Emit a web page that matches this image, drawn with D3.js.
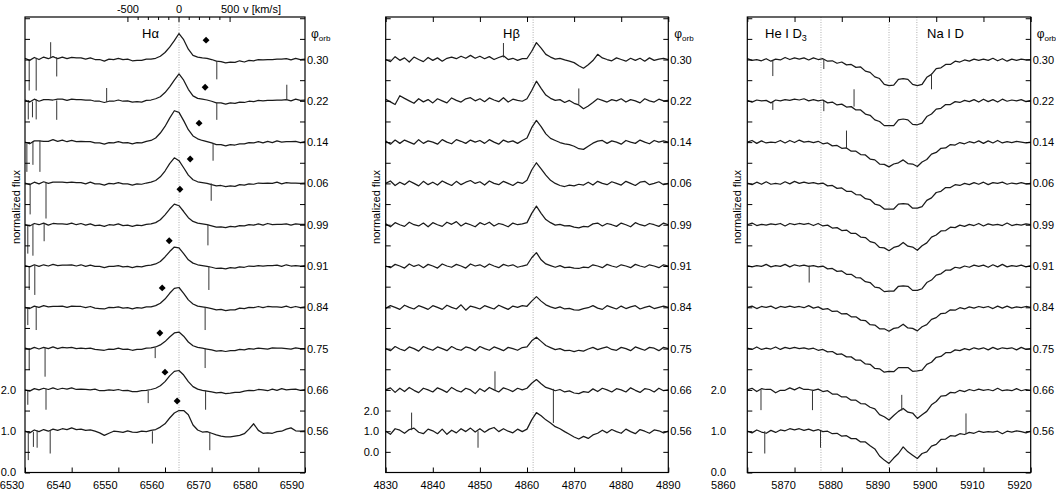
<!DOCTYPE html>
<html><head><meta charset="utf-8">
<script src="https://cdn.jsdelivr.net/npm/d3@7"></script>
<style>
body{margin:0;background:#fff}
text{font-family:"Liberation Sans",Arial,Helvetica,sans-serif;fill:#000}
</style>
</head><body>
<svg id="c" width="1056" height="489"></svg>
<script>
// ---------------- DATA ----------------
const phases = ["0.56","0.66","0.75","0.84","0.91","0.99","0.06","0.14","0.22","0.30"];

const haWave = [6530,6531,6532,6533,6534,6535,6536,6537,6538,6539,6540,6541,6542,6543,6544,6545,6546,6547,6548,6549,6550,6551,6552,6553,6554,6555,6556,6557,6558,6559,6560,6561,6562,6563,6564,6565,6566,6567,6568,6569,6570,6571,6572,6573,6574,6575,6576,6577,6578,6579,6580,6581,6582,6583,6584,6585,6586,6587,6588,6589,6590];
const hbWave = [4830,4831,4832,4833,4834,4835,4836,4837,4838,4839,4840,4841,4842,4843,4844,4845,4846,4847,4848,4849,4850,4851,4852,4853,4854,4855,4856,4857,4858,4859,4860,4861,4862,4863,4864,4865,4866,4867,4868,4869,4870,4871,4872,4873,4874,4875,4876,4877,4878,4879,4880,4881,4882,4883,4884,4885,4886,4887,4888,4889,4890];
const naWave = [5860,5861,5862,5863,5864,5865,5866,5867,5868,5869,5870,5871,5872,5873,5874,5875,5876,5877,5878,5879,5880,5881,5882,5883,5884,5885,5886,5887,5888,5889,5890,5891,5892,5893,5894,5895,5896,5897,5898,5899,5900,5901,5902,5903,5904,5905,5906,5907,5908,5909,5910,5911,5912,5913,5914,5915,5916,5917,5918,5919,5920];

// H-alpha normalized flux, one array per orbital phase
const ha056 = [1.00,0.96,1.03,0.99,1.04,1.00,1.05,1.02,1.06,1.04, 1.08,1.04,1.05,1.02,1.03,1.00,0.96,0.90,0.95,1.00, 0.99,0.97,1.01,0.98,0.97,1.00,0.99,1.02,1.04,1.10, 1.18,1.32,1.44,1.50,1.50,1.40,1.15,1.03,0.98,0.99, 0.95,0.91,0.88,0.86,0.86,0.88,0.90,0.94,1.05,1.18, 1.02,0.95,0.96,0.95,0.99,1.00,1.05,1.08,1.01,1.00, 1.01];
const ha066 = [1.00,0.97,1.03,1.00,1.04,1.01,1.05,1.01,1.04,1.02, 1.05,1.01,1.02,1.01,1.00,1.02,0.98,0.98,1.00,0.99, 1.01,0.98,0.99,0.96,0.96,0.98,0.99,1.01,1.04,1.10, 1.20,1.34,1.45,1.47,1.36,1.20,1.08,1.02,0.99,0.97, 0.95,0.93,0.94,0.91,0.92,0.94,0.94,0.97,0.99,0.98, 1.01,1.00,0.98,1.02,0.99,1.03,1.00,1.01,1.02,0.99, 1.01];
const ha075 = [1.01,0.98,1.03,0.99,1.03,1.00,1.04,1.00,1.03,1.02, 1.03,1.00,1.01,1.00,1.01,0.98,0.97,0.96,0.99,0.98, 1.01,0.98,0.99,0.96,0.98,0.98,1.01,1.02,1.04,1.09, 1.17,1.28,1.38,1.40,1.30,1.16,1.07,1.03,1.01,0.99, 0.97,0.94,0.95,0.93,0.95,0.95,0.98,0.97,1.00,0.99, 1.01,1.00,0.99,1.02,1.01,1.01,1.00,0.99,1.02,1.00, 1.00];
const ha084 = [1.00,0.97,1.03,1.00,1.04,1.01,1.02,1.02,1.03,1.00, 1.03,1.02,1.02,0.99,1.02,0.98,0.97,0.96,1.00,0.99, 1.01,0.98,0.99,0.96,0.99,0.98,1.01,1.01,1.04,1.10, 1.20,1.34,1.46,1.48,1.34,1.18,1.08,1.03,1.01,0.99, 0.97,0.94,0.95,0.92,0.94,0.94,0.98,0.97,1.00,0.99, 1.02,0.99,1.02,1.01,1.01,1.00,1.03,0.99,1.02,0.99, 1.01];
const ha091 = [1.01,0.98,1.03,0.99,1.03,1.00,1.04,1.01,1.02,1.02, 1.03,1.00,1.03,0.99,1.02,0.99,0.99,0.96,0.99,0.99, 1.01,0.98,0.99,0.96,0.99,0.98,1.01,1.02,1.05,1.11, 1.22,1.35,1.46,1.44,1.30,1.15,1.07,1.03,1.01,0.99, 0.97,0.94,0.95,0.93,0.96,0.95,0.98,0.97,1.00,0.99, 1.01,1.00,1.01,1.01,1.02,0.99,1.03,1.00,1.01,1.00, 1.01];
const ha099 = [1.00,0.97,1.03,1.00,1.04,0.99,1.03,1.02,1.02,1.01, 1.04,1.00,1.03,0.99,1.02,0.98,0.99,0.96,1.00,0.99, 1.02,0.98,0.99,0.96,0.99,0.98,1.01,1.02,1.05,1.12, 1.24,1.38,1.50,1.46,1.32,1.17,1.08,1.04,1.02,1.00, 0.97,0.94,0.95,0.93,0.96,0.95,0.98,0.97,1.00,0.99, 1.02,0.99,1.03,1.00,1.01,1.01,1.02,0.99,1.02,1.01, 1.01];
const ha006 = [1.01,0.97,1.03,0.99,1.04,1.00,1.03,1.03,1.03,1.02, 1.03,1.02,1.02,0.99,1.03,0.99,0.99,0.96,1.00,0.99, 1.02,0.99,0.99,0.96,0.99,0.98,1.01,1.03,1.07,1.16, 1.30,1.48,1.62,1.55,1.38,1.20,1.09,1.04,1.02,1.00, 0.97,0.94,0.95,0.92,0.94,0.93,0.97,0.96,0.99,0.98, 1.01,1.00,1.01,1.00,1.03,0.99,1.02,1.01,1.01,1.00, 1.01];
const ha014 = [1.00,0.96,1.03,1.03,1.02,1.02,1.06,1.02,1.05,1.01, 1.04,1.01,1.02,1.01,1.01,0.98,0.98,0.95,0.99,0.98, 1.01,0.98,0.99,0.96,0.99,0.98,1.02,1.04,1.10,1.22, 1.38,1.58,1.76,1.72,1.52,1.30,1.15,1.08,1.04,1.01, 0.98,0.94,0.94,0.91,0.94,0.93,0.96,0.96,0.99,0.98, 1.01,0.98,1.02,0.99,1.03,1.00,1.01,1.01,1.02,0.99, 1.01];
const ha022 = [1.02,0.97,1.04,0.99,1.03,1.03,1.02,1.04,1.04,1.01, 1.04,1.03,1.03,1.02,1.02,0.99,0.99,0.96,0.99,0.99, 1.02,0.99,1.00,0.97,0.98,0.97,1.01,1.02,1.05,1.10, 1.20,1.34,1.50,1.65,1.50,1.28,1.12,1.06,1.04,1.02, 0.99,0.95,0.95,0.92,0.95,0.94,0.97,0.96,0.99,0.98, 1.01,1.00,1.01,1.01,1.02,1.02,1.03,1.00,1.04,1.01, 1.02];
const ha030 = [1.03,0.98,1.05,1.00,1.06,1.02,1.07,1.02,1.06,1.02, 1.05,1.04,1.04,1.01,1.04,1.00,1.00,0.96,1.01,1.00, 1.03,1.00,1.01,0.97,0.98,0.98,1.01,1.01,1.03,1.08, 1.17,1.30,1.46,1.63,1.48,1.25,1.10,1.06,1.04,1.03, 1.00,0.96,0.95,0.92,0.94,0.93,0.97,0.94,0.98,0.97, 1.00,0.99,1.00,1.00,1.01,1.01,1.02,0.99,1.03,1.00, 1.01];

// H-alpha narrow telluric features: [phase index, wavelength, flux from, flux to]
const haSpikes = [
 [0,6530.7,1.00,0.30],[0,6531.8,0.98,0.62],[0,6532.6,1.02,0.60],[0,6535.4,1.01,0.46],[0,6557.3,1.00,0.70],[0,6569.6,0.98,0.54],
 [1,6530.6,1.00,0.64],[1,6534.5,1.03,0.52],[1,6556.4,0.98,0.68],[1,6568.7,0.99,0.52],
 [2,6530.9,1.01,0.48],[2,6534.3,1.02,0.32],[2,6557.9,1.02,0.77],[2,6568.6,1.01,0.53],
 [3,6530.6,1.00,0.57],[3,6532.4,1.02,0.45],[3,6568.6,1.01,0.45],
 [4,6530.9,0.99,0.42],[4,6532.1,1.02,0.30],[4,6569.4,0.99,0.42],
 [5,6530.6,0.98,0.30],[5,6531.7,1.02,0.25],[5,6534.1,1.03,0.60],[5,6569.2,1.00,0.50],
 [6,6531.1,0.98,0.25],[6,6534.5,1.03,0.15],[6,6569.9,1.00,0.58],
 [7,6530.4,0.97,0.28],[7,6531.7,1.02,0.45],[7,6533.2,1.04,0.28],[7,6570.3,0.98,0.55],
 [8,6530.7,1.02,0.55],[8,6531.6,0.98,0.60],[8,6532.4,1.03,0.55],[8,6536.8,1.01,0.54],[8,6571.1,0.96,0.54],[8,6547.5,0.97,1.31],[8,6586.1,1.02,1.39],
 [9,6530.9,0.99,0.25],[9,6532.4,1.04,0.25],[9,6536.8,1.06,0.59],[9,6571.1,0.97,0.52],[9,6535.5,1.03,1.42]
];
// diamond markers in the H-alpha panel
const haMarkWave = [6562.6,6560.0,6558.9,6559.4,6560.9,6563.2,6565.4,6567.3,6568.6,6568.8];
const haMarkFlux = [1.73,1.43,1.38,1.47,1.61,1.86,1.59,1.46,1.33,1.47];

// H-beta normalized flux
const hb056 = [1.00,0.85,1.12,1.05,0.90,1.08,1.15,0.95,0.88,1.10, 1.02,0.88,1.10,0.85,1.05,0.92,1.12,0.98,1.15,0.96, 1.12,0.95,1.10,1.18,0.98,1.12,1.00,0.92,1.10,0.98, 1.10,1.55,1.90,1.75,1.55,1.40,1.22,1.12,0.98,0.85, 0.72,0.62,0.75,0.65,0.82,0.90,1.05,0.92,1.08,0.98, 0.90,1.10,0.98,0.88,1.08,1.00,0.90,1.06,1.02,0.92, 1.00];
const hb066 = [1.00,1.10,0.88,1.08,0.92,1.12,0.98,0.87,1.08,1.00, 0.90,1.10,1.00,0.88,1.12,0.98,0.90,1.08,1.00,0.82, 1.06,0.92,1.12,1.00,0.90,1.10,1.02,0.92,1.08,1.00, 1.08,1.32,1.50,1.30,1.12,1.05,0.96,1.02,0.90,0.95, 0.85,0.82,0.92,0.88,1.05,0.92,1.08,1.00,0.90,1.06, 1.00,0.90,1.10,0.98,0.88,1.06,1.02,0.90,1.08,0.96, 1.00];
const hb075 = [1.00,0.90,1.10,0.98,0.90,1.08,1.00,0.88,1.10,1.00, 0.92,1.08,1.00,0.90,1.10,0.98,0.92,1.08,1.02,0.90, 1.10,1.00,0.92,1.08,1.00,0.90,1.06,1.00,0.92,1.05, 1.08,1.38,1.55,1.35,1.15,1.05,0.95,1.00,0.90,0.92, 0.85,0.92,0.88,0.98,1.06,0.95,1.02,1.08,0.96,0.92, 1.06,1.00,0.90,1.08,1.00,0.92,1.06,1.02,0.90,1.06, 1.00];
const hb084 = [0.95,1.08,1.00,0.90,1.10,1.00,0.92,1.08,1.00,0.90, 1.08,1.00,0.90,1.10,1.00,0.92,1.12,0.86,1.06,1.00, 0.92,1.08,1.00,0.92,1.10,1.00,0.90,1.06,1.00,1.08, 1.05,1.30,1.52,1.30,1.12,1.02,0.95,1.02,0.92,0.95, 0.88,0.86,0.94,0.98,1.08,0.96,0.90,1.08,1.00,0.92, 1.06,0.94,1.02,1.08,0.92,1.00,1.06,0.94,1.00,1.06, 1.00];
const hb091 = [1.00,0.92,1.08,1.00,0.90,1.10,0.98,1.06,0.92,1.08, 1.00,0.90,1.10,1.00,0.94,1.08,1.00,0.90,1.10,1.00, 1.06,0.94,1.10,1.00,0.92,1.08,1.00,1.06,0.94,1.00, 1.05,1.40,1.65,1.30,1.10,1.02,0.94,1.02,0.92,0.95, 0.90,0.88,0.95,0.92,1.06,1.00,0.92,1.08,1.00,0.94, 1.06,1.00,0.92,1.08,1.00,0.94,1.06,1.00,0.92,1.06, 1.00];
const hb099 = [1.04,0.90,1.10,1.00,0.92,1.12,1.00,0.94,1.08,0.90, 1.10,1.00,0.92,1.12,1.02,1.15,0.94,1.08,1.00,0.90, 1.10,1.00,1.12,0.94,1.06,1.00,0.90,1.08,1.00,1.04, 1.10,1.55,1.90,1.55,1.25,1.10,0.98,1.02,0.94,0.96, 0.88,0.85,0.92,0.90,1.04,1.08,0.94,1.06,1.00,0.92, 1.08,1.00,0.90,1.10,1.00,0.94,1.06,1.00,0.92,1.08, 1.00];
const hb006 = [1.00,1.12,0.90,1.06,0.94,1.12,1.00,0.88,1.10,0.94, 1.06,0.92,1.12,1.00,0.90,1.10,0.94,1.06,1.14,1.00, 1.08,0.92,1.12,1.00,0.94,1.10,1.00,0.90,1.06,1.00, 1.15,1.65,2.00,1.70,1.40,1.15,1.00,0.90,0.85,0.92, 0.88,0.96,0.92,1.06,0.92,1.10,1.00,0.94,1.08,1.00, 0.92,1.10,1.00,0.90,1.06,1.10,0.94,1.00,1.08,0.94, 1.00];
const hb014 = [1.06,0.90,1.10,0.94,1.10,1.00,0.90,1.12,0.94,1.06, 1.00,0.90,1.12,1.00,0.92,1.12,1.04,0.94,1.10,1.00, 1.08,0.94,1.12,1.00,0.90,1.10,1.00,1.06,0.94,1.08, 1.20,1.70,2.05,1.75,1.40,1.18,1.08,0.98,0.92,0.88, 0.80,0.68,0.65,0.80,0.95,1.05,1.08,0.94,1.06,1.00, 0.90,1.08,1.00,0.94,1.10,1.00,0.92,1.08,1.00,1.06, 1.00];
const hb022 = [1.08,0.95,0.82,1.25,1.12,1.00,0.88,1.10,0.95,1.06, 0.90,1.10,1.00,0.90,1.14,1.02,0.94,1.10,1.15,1.00, 1.10,0.96,1.14,1.04,0.96,1.15,0.94,1.08,1.02,0.98, 1.10,1.50,1.95,1.60,1.28,1.12,1.02,1.06,0.92,1.02, 0.88,0.80,0.62,0.75,0.92,1.10,1.02,0.94,1.06,1.00, 1.10,0.94,1.06,1.00,0.90,1.10,1.00,0.94,1.08,1.00, 1.02];
const hb030 = [1.00,0.90,1.14,0.96,1.08,0.88,1.12,1.00,0.90,1.10, 0.96,1.08,0.92,1.06,1.12,1.04,1.16,1.06,1.20,1.06, 1.16,1.04,1.14,1.00,1.10,1.18,1.00,1.06,0.96,1.04, 1.05,1.40,1.82,1.55,1.25,1.12,1.02,1.06,0.98,0.92, 0.85,0.70,0.58,0.75,0.95,1.25,1.08,1.00,0.94,1.08, 1.00,0.92,1.06,0.96,1.06,0.92,1.08,0.96,1.02,1.06, 1.00];
const hbSpikes = [
 [0,4835.5,1.05,1.90],[0,4849.6,1.00,0.20],
 [1,4853.2,1.00,1.90],[1,4865.6,1.05,-0.60],
 [8,4871.0,0.85,1.60],
 [9,4855.0,1.10,1.80]
];

// Na I D / He I D3 normalized flux
const na056 = [1.00,0.96,1.03,0.98,0.95,1.02,0.97,1.03,1.01,1.06, 1.03,1.06,1.02,1.05,1.01,1.04,0.99,1.00,0.94,0.95, 0.88,0.89,0.82,0.82,0.74,0.74,0.65,0.57,0.40,0.30, 0.22,0.35,0.46,0.62,0.50,0.42,0.34,0.46,0.50,0.64, 0.68,0.80,0.81,0.89,0.88,0.94,0.92,0.97,0.95,1.00, 0.97,0.99,0.98,1.00,0.94,1.00,0.98,1.01,0.99,0.96, 1.00];
const na066 = [1.00,1.04,0.96,1.03,1.01,1.01,0.93,0.99,0.99,1.05, 1.00,1.06,1.01,1.01,0.99,1.02,0.96,0.98,0.90,0.90, 0.83,0.83,0.75,0.75,0.67,0.66,0.58,0.54,0.40,0.35, 0.27,0.38,0.48,0.55,0.46,0.44,0.31,0.40,0.48,0.64, 0.72,0.85,0.86,0.94,0.93,0.99,0.96,1.01,0.98,1.02, 0.99,1.01,0.98,1.04,0.98,1.00,0.98,1.03,0.98,1.01, 0.99];
const na075 = [1.01,0.98,1.04,0.98,1.01,0.99,1.04,0.98,1.03,1.00, 1.03,1.00,1.02,0.99,1.01,0.96,0.98,0.92,0.93,0.86, 0.87,0.80,0.80,0.72,0.72,0.63,0.62,0.52,0.51,0.43, 0.45,0.44,0.54,0.54,0.54,0.45,0.46,0.48,0.62,0.67, 0.79,0.81,0.90,0.90,0.97,0.95,1.00,0.97,1.02,0.99, 1.02,0.97,1.03,0.98,1.02,1.00,1.02,0.97,1.03,0.98, 1.00];
const na084 = [1.00,1.03,0.97,1.02,1.00,1.03,0.97,1.02,1.00,1.03, 1.00,1.02,0.99,1.04,0.98,1.01,0.95,0.97,0.90,0.91, 0.84,0.85,0.77,0.77,0.69,0.68,0.58,0.57,0.48,0.48, 0.42,0.49,0.51,0.59,0.50,0.49,0.43,0.53,0.58,0.71, 0.75,0.85,0.86,0.94,0.93,0.99,0.96,1.01,0.98,1.02, 0.99,1.02,0.97,1.03,0.98,1.03,0.98,1.01,0.99,1.02, 1.00];
const na091 = [1.01,0.98,1.01,0.99,1.04,0.98,1.01,0.99,1.04,0.98, 1.03,1.00,1.02,0.99,1.01,0.98,1.00,0.93,0.94,0.87, 0.88,0.80,0.80,0.72,0.71,0.62,0.60,0.49,0.47,0.38, 0.39,0.39,0.51,0.52,0.51,0.41,0.41,0.45,0.60,0.66, 0.78,0.81,0.90,0.90,0.97,0.95,1.00,0.97,1.02,0.99, 1.02,0.97,1.03,0.98,1.04,0.98,1.01,0.99,1.02,0.98, 1.01];
const na099 = [1.00,1.04,0.98,1.01,0.99,1.02,1.00,1.03,0.97,1.03, 1.00,1.03,1.01,1.03,0.98,1.03,0.97,0.99,0.92,0.93, 0.86,0.87,0.79,0.79,0.70,0.69,0.59,0.56,0.45,0.44, 0.37,0.45,0.48,0.57,0.48,0.46,0.38,0.49,0.56,0.70, 0.75,0.85,0.86,0.94,0.93,0.99,0.96,1.01,0.98,1.03, 0.97,1.02,0.99,1.01,0.98,1.04,0.98,1.01,0.99,1.02, 1.00];
const na006 = [1.01,0.97,1.03,0.98,1.04,0.98,1.00,0.98,1.04,0.99, 1.05,1.00,1.03,1.00,1.02,0.99,1.01,0.94,0.95,0.88, 0.89,0.81,0.81,0.73,0.72,0.63,0.61,0.50,0.47,0.38, 0.38,0.38,0.50,0.51,0.50,0.40,0.40,0.44,0.59,0.65, 0.78,0.81,0.90,0.90,0.97,0.95,1.00,0.97,1.02,0.98, 1.03,0.97,1.02,1.00,1.03,0.98,1.01,0.99,1.02,0.99, 1.00];
const na014 = [1.00,1.04,0.97,1.03,0.98,1.00,0.99,1.04,0.98,1.04, 0.99,1.05,1.00,1.02,0.99,1.02,0.96,0.98,0.91,0.92, 0.85,0.86,0.78,0.78,0.70,0.69,0.59,0.57,0.47,0.46, 0.40,0.47,0.50,0.57,0.48,0.47,0.41,0.52,0.58,0.71, 0.75,0.85,0.86,0.94,0.93,0.99,0.96,1.01,0.98,1.03, 0.97,1.03,0.98,1.04,0.98,1.01,0.99,1.02,1.00,0.98, 1.00];
const na022 = [1.01,0.97,1.02,1.00,1.01,0.95,1.02,1.00,1.03,1.01, 1.04,1.02,1.05,1.00,1.03,1.00,1.02,0.95,0.97,0.90, 0.92,0.85,0.86,0.78,0.78,0.68,0.65,0.54,0.50,0.40, 0.40,0.40,0.54,0.56,0.54,0.43,0.42,0.46,0.62,0.68, 0.80,0.82,0.91,0.91,0.98,0.96,1.01,0.98,1.03,0.97, 1.04,0.98,1.03,0.97,1.04,0.99,1.02,1.00,1.03,0.98, 1.01];
const na030 = [1.02,0.98,1.00,0.97,1.02,0.96,1.01,0.99,1.05,1.00, 1.04,1.01,1.04,0.99,1.04,1.00,1.02,0.96,0.97,0.91, 0.94,0.87,0.88,0.81,0.82,0.72,0.69,0.58,0.54,0.40, 0.37,0.38,0.52,0.54,0.52,0.40,0.37,0.40,0.57,0.64, 0.78,0.80,0.88,0.88,0.96,0.94,0.99,0.96,1.01,0.98, 1.01,0.98,1.03,0.97,1.02,0.96,1.01,0.98,1.01,0.99, 1.00];
const naSpikes = [
 [0,5863.7,1.00,0.46],[0,5875.5,1.01,0.60],[0,5906.3,0.93,1.43],
 [1,5862.9,1.00,0.51],[1,5873.8,0.99,0.51],[1,5892.7,0.50,0.88],
 [4,5873.1,1.01,0.60],
 [7,5881.0,0.84,1.28],
 [8,5865.4,0.97,0.78],[8,5876.2,1.00,0.75],[8,5882.6,0.86,1.28],
 [9,5865.4,0.98,0.60],[9,5876.2,1.00,0.77],[9,5899.0,0.66,0.28]
];

const haFlux = [ha056,ha066,ha075,ha084,ha091,ha099,ha006,ha014,ha022,ha030];
const hbFlux = [hb056,hb066,hb075,hb084,hb091,hb099,hb006,hb014,hb022,hb030];
const naFlux = [na056,na066,na075,na084,na091,na099,na006,na014,na022,na030];

const xTicksHa = [6530,6540,6550,6560,6570,6580,6590];
const xTicksHb = [4830,4840,4850,4860,4870,4880,4890];
const xTicksNa = [5860,5870,5880,5890,5900,5910,5920];
const velTicks = [-500,-400,-300,-200,-100,0,100,200,300,400,500];
const velLabels = [-500,0,500];
const yLabelVals = [0,1,2];
const haRest = 6563.0, hbRest = 4861.3;
const naRest = [5875.6, 5890.0, 5895.9];

// ---------------- DRAW ----------------
const svg = d3.select("#c");
const TOP = 17, BOT = 472.5;
const C = 299792.458;

const panels = [
 {x0:25, x1:305, xd:[6530,6590], yd:[0,11.03], step:1, wave:haWave, flux:haFlux, spikes:haSpikes,
  xt:xTicksHa, xlabDx:-13, ytick:0.5, ylabX:16, rest:[haRest], axisX:16},
 {x0:385.7, x1:668.3, xd:[4830,4890], yd:[-1,21.06], step:2, wave:hbWave, flux:hbFlux, spikes:hbSpikes,
  xt:xTicksHb, xlabDx:0, ytick:1, ylabX:379, rest:[hbRest], axisX:376},
 {x0:747.3, x1:1030.7, xd:[5860,5920], yd:[0,11.03], step:1, wave:naWave, flux:naFlux, spikes:naSpikes,
  xt:xTicksNa, xlabDx:-11, ytick:0.5, ylabX:726, rest:naRest, axisX:737}
];

panels.forEach((p,pi)=>{
  const x = d3.scaleLinear().domain(p.xd).range([p.x0,p.x1]);
  const y = d3.scaleLinear().domain(p.yd).range([BOT,TOP]);
  const g = svg.append("g");

  // dotted rest-wavelength lines
  p.rest.forEach(l=>{
    g.append("line").attr("x1",x(l)).attr("x2",x(l)).attr("y1",TOP).attr("y2",BOT)
     .attr("stroke","#9a9a9a").attr("stroke-width",0.8).attr("stroke-dasharray","1,1.5");
  });

  // spectra
  const line = d3.line().x(d=>x(d[0])).y(d=>y(d[1]));
  p.flux.forEach((f,k)=>{
    if (f.length !== p.wave.length) {
      g.append("text").attr("x",p.x0+20).attr("y",30+k*12).text("LEN "+k+" "+f.length).attr("fill","red");
    }
    const off = k*p.step;
    const pts = p.wave.map((w,i)=>[w, f[i]+off]);
    g.append("path").attr("d",line(pts)).attr("fill","none")
     .attr("stroke","#1a1a1a").attr("stroke-width",1.25).attr("stroke-linejoin","round");
  });
  p.spikes.forEach(s=>{
    const off = s[0]*p.step;
    g.append("line").attr("x1",x(s[1])).attr("x2",x(s[1]))
     .attr("y1",y(s[2]+off)).attr("y2",y(s[3]+off))
     .attr("stroke","#333").attr("stroke-width",1);
  });

  // frame
  g.append("rect").attr("x",p.x0).attr("y",TOP).attr("width",p.x1-p.x0).attr("height",BOT-TOP)
   .attr("fill","none").attr("stroke","#000").attr("stroke-width",1.2);

  // axes (ticks inside)
  const yt = d3.range(0, p.yd[1], p.ytick);
  const clean = a=>{a.select(".domain").remove(); a.selectAll("line").attr("stroke","#000");};
  g.append("g").attr("transform",`translate(0,${BOT})`)
   .call(d3.axisBottom(x).tickValues(p.xt).tickSize(-5).tickFormat("")).call(clean);
  g.append("g").attr("transform",`translate(${p.x0},0)`)
   .call(d3.axisLeft(y).tickValues(yt).tickSize(-5).tickFormat("")).call(clean);
  g.append("g").attr("transform",`translate(${p.x1},0)`)
   .call(d3.axisRight(y).tickValues(yt).tickSize(-5).tickFormat("")).call(clean);
  if (pi>0) {
    g.append("g").attr("transform",`translate(0,${TOP})`)
     .call(d3.axisTop(x).tickValues(p.xt).tickSize(-5).tickFormat("")).call(clean);
  } else {
    // velocity axis on top of H-alpha panel
    const vx = v => x(haRest*(1+v/C));
    velTicks.forEach(v=>{
      const big = velLabels.includes(v);
      g.append("line").attr("x1",vx(v)).attr("x2",vx(v)).attr("y1",TOP).attr("y2",TOP+(big?5:3))
       .attr("stroke","#000");
    });
    velLabels.forEach(v=>{
      g.append("text").attr("x",vx(v)).attr("y",13).attr("text-anchor","middle")
       .attr("font-size",11).text(v);
    });
    g.append("text").attr("x",vx(500)+13).attr("y",13).attr("font-size",11).text("v [km/s]");
  }

  // x labels
  p.xt.forEach((t,i)=>{
    let dx = p.xlabDx;
    if (pi===2 && i===0) dx = -24;
    g.append("text").attr("x",x(t)+dx).attr("y",488.5).attr("text-anchor","middle")
     .attr("font-size",11).text(t);
  });
  // y labels
  yLabelVals.forEach(v=>{
    g.append("text").attr("x",p.ylabX).attr("y",y(v)+(v===0 && p.yd[0]===0 ? 3.5 : 4)).attr("text-anchor","end")
     .attr("font-size",11).text(d3.format(".1f")(v));
  });
  // y axis title
  g.append("text").attr("transform",`translate(${p.axisX+4},207) rotate(-90)`)
   .attr("text-anchor","middle").attr("font-size",11).text("normalized flux");

  // phase labels
  phases.forEach((ph,k)=>{
    g.append("text").attr("x",p.x1+2).attr("y",y(1+k*p.step)+4).attr("font-size",11).text(ph);
  });
  const phi = g.append("text").attr("x",p.x1+6).attr("y",38).attr("font-size",12);
  phi.append("tspan").text("φ");
  phi.append("tspan").attr("font-size",8).attr("dy",3).text("orb");

  // line identifications
  if (pi===0) {
    g.append("text").attr("x",142).attr("y",38).attr("font-size",13).text("Hα");
    haMarkWave.forEach((w,k)=>{
      g.append("path").attr("d",d3.symbol(d3.symbolSquare,24)())
       .attr("transform",`translate(${x(w)},${y(haMarkFlux[k]+k)}) rotate(45)`).attr("fill","#000");
    });
  } else if (pi===1) {
    g.append("text").attr("x",503).attr("y",38).attr("font-size",13).text("Hβ");
  } else {
    const t = g.append("text").attr("x",765).attr("y",38).attr("font-size",13);
    t.append("tspan").text("He I D");
    t.append("tspan").attr("font-size",9).attr("dy",3).text("3");
    g.append("text").attr("x",927).attr("y",38).attr("font-size",13).text("Na I D");
  }
});
</script>
</body></html>
